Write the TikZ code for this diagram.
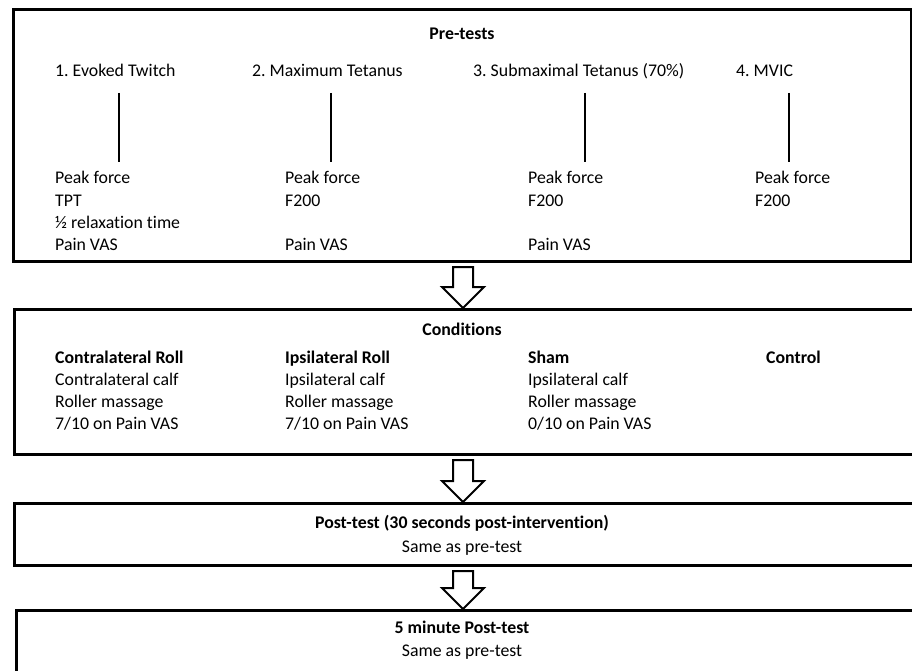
\documentclass[tikz,border=0pt]{standalone}
\usepackage{fontspec}
\setmainfont{Carlito}[Ligatures={NoCommon}]
\usetikzlibrary{calc}
\frenchspacing
\newcommand\txtsize{\fontsize{17.8}{22}\selectfont}
\tikzstyle{box}=[draw,line width=3pt,anchor=north west,inner sep=0pt]
\tikzstyle{txt}=[anchor=base west,inner sep=0pt,font=\txtsize]
\tikzstyle{ttl}=[anchor=base,inner sep=0pt,font=\txtsize\bfseries]
\tikzstyle{stem}=[line width=2.5pt]
\tikzstyle{hollow}=[line width=2pt,line join=miter,fill=white]
% one column of lines: name, x, first baseline, {line/text,...}
\newcommand\valcol[4]{\foreach \k/\s in {#4} \node[txt] (#1-\k) at (#2,#3+22.3*\k) {\s};}
% hollow block arrow from box #1 down to box #2
\newcommand\flowarrow[2]{%
  \draw[hollow] ($(axis |- #1.south)+(-10,4)$) -- ($(axis |- #2.north)+(-10,-21)$)
    -- ++(-11,0) -- (axis |- #2.north) -- ++(21,-21) -- ++(-11,0)
    -- ($(axis |- #1.south)+(10,4)$) -- cycle;}

\begin{document}
\begin{tikzpicture}[x=1pt,y=-1pt]
	\useasboundingbox (0,0) rectangle (912,671);
	\clip (0,0) rectangle (912,671);
	\coordinate (axis) at (463,0);

	\node[box,minimum width=898pt,minimum height=252pt] (pretests)   at (12,8)   {};
	\node[box,minimum width=902pt,minimum height=145pt] (conditions) at (13,308) {};
	\node[box,minimum width=902pt,minimum height=62pt]  (posttest)   at (13,502) {};
	\node[box,minimum width=900pt,minimum height=75pt]  (fivemin)    at (15,609) {};

	% pre-tests
	\node[ttl] (pre) at (462,40) {Pre-tests};
	\node[txt] (h1) at (55,77)  {1. Evoked Twitch};
	\node[txt] (h2) at (252,77) {2. Maximum Tetanus};
	\node[txt] (h3) at (473,77) {3. Submaximal Tetanus (70\%)};
	\node[txt] (h4) at (736,77) {4. MVIC};
	\foreach \x [count=\i] in {119,331,585,789} {
		\coordinate (s\i a) at (\x,93);
		\coordinate (s\i b) at (\x,162);
		\draw[stem] (s\i a) -- (s\i b);
	}
	\valcol{p1}{55}{184}{0/Peak force,1/TPT,2/½ relaxation time,3/Pain VAS}
	\valcol{p2}{285}{184}{0/Peak force,1/F200,3/Pain VAS}
	\valcol{p3}{528}{184}{0/Peak force,1/F200,3/Pain VAS}
	\valcol{p4}{755}{184}{0/Peak force,1/F200}

	% conditions
	\node[ttl] (cond) at (462,335) {Conditions};
	\valcol{c1}{55}{363}{0/\textbf{Contralateral Roll},1/Contralateral calf,2/Roller massage,3/{7/10 on Pain VAS}}
	\valcol{c2}{285}{363}{0/\textbf{Ipsilateral Roll},1/Ipsilateral calf,2/Roller massage,3/{7/10 on Pain VAS}}
	\valcol{c3}{528}{363}{0/\textbf{Sham},1/Ipsilateral calf,2/Roller massage,3/{0/10 on Pain VAS}}
	\valcol{c4}{766}{363}{0/\textbf{Control}}

	% post-tests
	\node[ttl] (post) at (462,528) {Post-test (30 seconds post-intervention)};
	\node[txt,anchor=base] (postsame) at (462,552) {Same as pre-test};
	\node[ttl] (five) at (462,633) {5 minute Post-test};
	\node[txt,anchor=base] (fivesame) at (462,656) {Same as pre-test};

	\flowarrow{pretests}{conditions}
	\flowarrow{conditions}{posttest}
	\flowarrow{posttest}{fivemin}
\end{tikzpicture}
\end{document}
